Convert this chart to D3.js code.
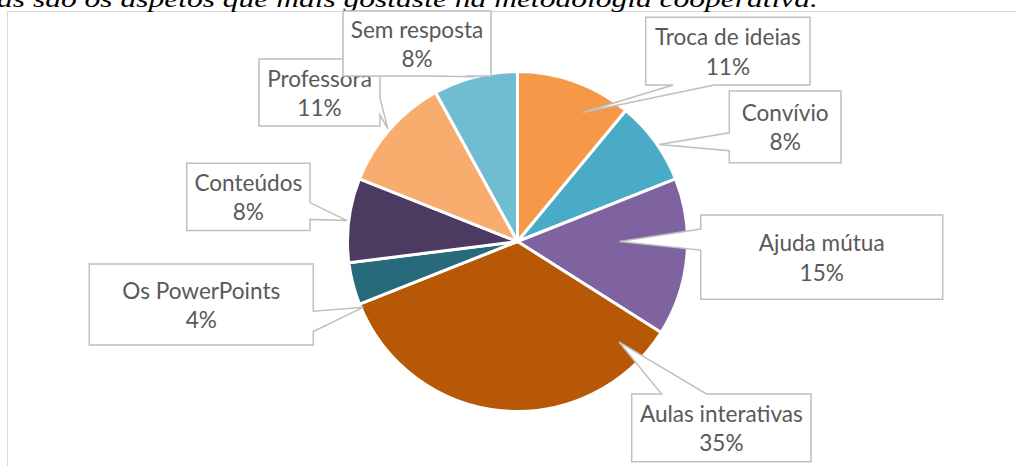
<!DOCTYPE html>
<html>
<head>
<meta charset="utf-8">
<script src="https://cdn.jsdelivr.net/npm/d3@7"></script>
<style>
  html, body { margin: 0; padding: 0; background: #fff; overflow: hidden; }
  svg { display: block; }
</style>
</head>
<body>
<svg id="chart" width="1016" height="466"></svg>
<script>
// ---- data ----
const categories = ["Troca de ideias", "Convívio", "Ajuda mútua", "Aulas interativas",
                    "Os PowerPoints", "Conteúdos", "Professora", "Sem resposta"];
const values = [11, 8, 15, 35, 4, 8, 11, 8];
const percentLabels = ["11%", "8%", "15%", "35%", "4%", "8%", "11%", "8%"];
const colors = ["#F59847", "#4AABC6", "#7F63A1", "#B75806",
                "#266A7B", "#4C3A61", "#F8AD6F", "#70BCD1"];
const titleText = "as são os aspetos que mais gostaste na metodologia cooperativa.";

// ---- layout (label callout boxes and pointer tips) ----
const labelBoxes = [
  {x: 645.7, y: 17.3, w: 164.3, h: 67.7},
  {x: 729.3, y: 91,   w: 111.7, h: 71.7},
  {x: 700.7, y: 215,  w: 242,   h: 84.3},
  {x: 631.7, y: 394,  w: 179.3, h: 67.7},
  {x: 89.3,  y: 264,  w: 224,   h: 81},
  {x: 186.7, y: 163.3, w: 123.3, h: 67.3},
  {x: 259,   y: 59,   w: 121,   h: 67},
  {x: 343,   y: 11,   w: 148,   h: 65}
];
// tip: angle offset from slice mid-angle (deg), radius fraction
const tipOffsets = [[6.9, 0.85], [1.6, 1.01], [-5.4, 0.6], [-50.7, 0.84],
                    [-8.7, 0.985], [-0.2, 1.01], [-0.4, 1.01], [0, 1.0]];

const svg = d3.select("#chart");
const cx = 517.5, cy = 241.5, R = 170;

// chart area border
svg.append("rect")
  .attr("x", 7.5).attr("y", 11.5).attr("width", 1040).attr("height", 480)
  .attr("fill", "#fff").attr("stroke", "#d9d9d9").attr("stroke-width", 1);

// title (cropped at top in the reference)
const titleG = svg.append("g").attr("transform", "translate(-3,6.5) scale(1,0.72)");
const title = titleG.append("text")
  .attr("x", 0).attr("y", 0)
  .attr("font-family", "'Liberation Serif', 'Times New Roman', serif")
  .attr("font-style", "italic")
  .attr("font-size", 27)
  .attr("fill", "#000")
  .text(titleText);
{
  const w = title.node().getComputedTextLength();
  const target = 821;
  title.attr("font-size", 27 * target / w);
}

// pie
const pie = d3.pie().value(d => d).sort(null);
const arcs = pie(values);
const arcGen = d3.arc().innerRadius(0).outerRadius(R);
const g = svg.append("g").attr("transform", `translate(${cx},${cy})`);
g.selectAll("path.slice")
  .data(arcs)
  .join("path")
  .attr("class", "slice")
  .attr("d", arcGen)
  .attr("fill", (d, i) => colors[i])
  .attr("stroke", "#fff")
  .attr("stroke-width", 3)
  .attr("stroke-linejoin", "round");

// callout geometry (Excel wedgeRectCallout style)
function calloutPath(b, tx, ty) {
  const {x, y, w, h} = b;
  const inside = tx >= x && tx <= x + w && ty >= y && ty <= y + h;
  if (inside) return `M${x},${y}H${x + w}V${y + h}H${x}Z`;
  const bcx = x + w / 2, bcy = y + h / 2;
  const dx = tx - bcx, dy = ty - bcy;
  const dq = dx * h / w;
  const dz = Math.abs(dy) - Math.abs(dq);
  const x1 = x + w * (dx > 0 ? 7 : 2) / 12, x2 = x + w * (dx > 0 ? 10 : 5) / 12;
  const y1 = y + h * (dy > 0 ? 7 : 2) / 12, y2 = y + h * (dy > 0 ? 10 : 5) / 12;
  let edge;
  if (dz > 0) edge = dy < 0 ? "top" : "bottom";
  else edge = dx < 0 ? "left" : "right";
  let p = `M${x},${y}`;
  if (edge === "top") p += `L${x1},${y}L${tx},${ty}L${x2},${y}`;
  p += `L${x + w},${y}`;
  if (edge === "right") p += `L${x + w},${y1}L${tx},${ty}L${x + w},${y2}`;
  p += `L${x + w},${y + h}`;
  if (edge === "bottom") p += `L${x2},${y + h}L${tx},${ty}L${x1},${y + h}`;
  p += `L${x},${y + h}`;
  if (edge === "left") p += `L${x},${y2}L${tx},${ty}L${x},${y1}`;
  return p + "Z";
}

// label font size fitted to the reference width of "Troca de ideias"
const probe = svg.append("text")
  .attr("font-family", "Lato, 'Open Sans', sans-serif")
  .attr("font-size", 20).text(categories[0]);
const fs = 20 * 146 / probe.node().getComputedTextLength();
probe.remove();

const labels = svg.append("g");
arcs.forEach((a, i) => {
  const b = labelBoxes[i];
  const mid = (a.startAngle + a.endAngle) / 2 + tipOffsets[i][0] * Math.PI / 180;
  const r = R * tipOffsets[i][1];
  const tx = cx + r * Math.sin(mid), ty = cy - r * Math.cos(mid);
  const lg = labels.append("g");
  lg.append("path")
    .attr("d", calloutPath(b, tx, ty))
    .attr("fill", "#fff")
    .attr("stroke", "#bfbfbf")
    .attr("stroke-width", 1.5)
    .attr("stroke-linejoin", "miter");
  const bcx = b.x + b.w / 2, bcy = b.y + b.h / 2;
  const t = lg.append("text")
    .attr("text-anchor", "middle")
    .attr("font-family", "Lato, 'Open Sans', sans-serif")
    .attr("font-size", fs)
    .attr("fill", "#595959");
  t.append("tspan").attr("x", bcx).attr("y", bcy - 5.8).text(categories[i]);
  t.append("tspan").attr("x", bcx).attr("y", bcy + 23.5).text(percentLabels[i]);
});
</script>
</body>
</html>
